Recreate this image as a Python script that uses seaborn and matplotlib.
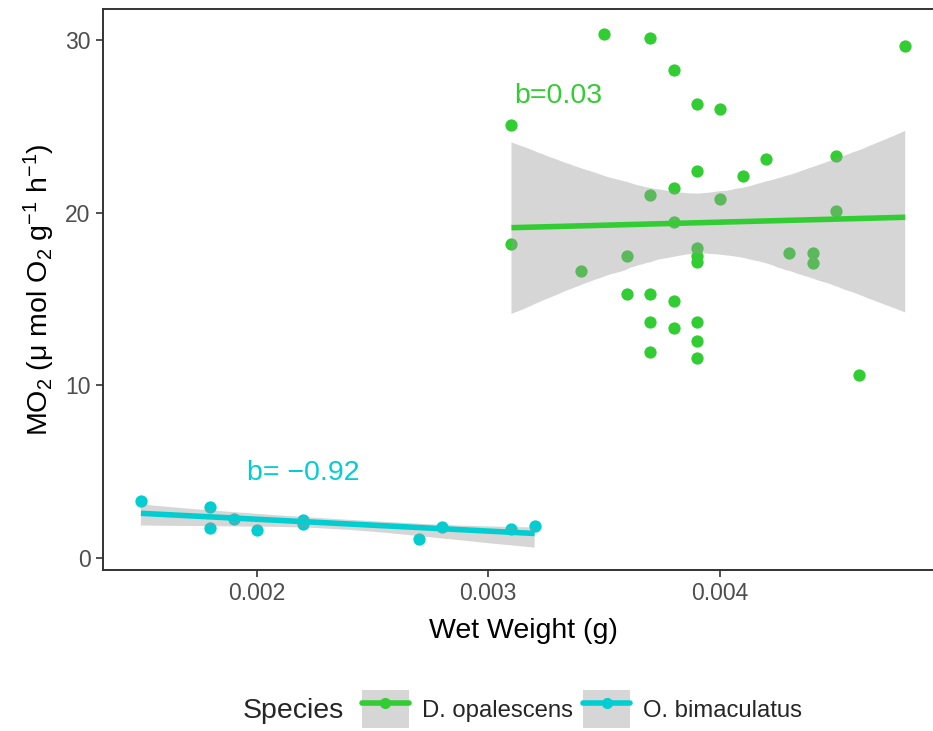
import numpy as np
import pandas as pd
import matplotlib
matplotlib.use("Agg")
import matplotlib.pyplot as plt
from matplotlib.lines import Line2D
from matplotlib.patches import Rectangle
from matplotlib.collections import PolyCollection
from matplotlib.legend_handler import HandlerTuple
import seaborn as sns

# Wet weight (g) and oxygen consumption (umol O2 g^-1 h^-1) per species
opal_weight = [0.0035, 0.0037, 0.0038, 0.0039, 0.0040, 0.0031, 0.0048, 0.0042, 0.0045,
               0.0039, 0.0041, 0.0038, 0.0037, 0.0040, 0.0045, 0.0038, 0.0031, 0.0034,
               0.0036, 0.0039, 0.0039, 0.0039, 0.0043, 0.0044, 0.0044, 0.0036, 0.0037,
               0.0038, 0.0037, 0.0038, 0.0039, 0.0039, 0.0037, 0.0039, 0.0046]
opal_mo2 = [30.34, 30.13, 28.26, 26.31, 26.00, 25.07, 29.65, 23.12, 23.29,
            22.43, 22.10, 21.40, 21.00, 20.79, 20.09, 19.44, 18.20, 16.62,
            17.47, 17.93, 17.49, 17.16, 17.66, 17.64, 17.10, 15.29, 15.27,
            14.88, 13.65, 13.34, 13.67, 12.57, 11.95, 11.58, 10.60]

bima_weight = [0.0015, 0.0018, 0.0018, 0.0019, 0.0020, 0.0022, 0.0022,
               0.0027, 0.0028, 0.0031, 0.0032]
bima_mo2 = [3.30, 2.94, 1.72, 2.26, 1.64, 2.22, 1.99,
            1.12, 1.78, 1.68, 1.84]

species = ["D. opalescens", "O. bimaculatus"]
species_colors = {"D. opalescens": "#32CD32", "O. bimaculatus": "#00CED1"}
slope_labels = {"D. opalescens": "b=0.03", "O. bimaculatus": "b= \u22120.92"}
label_pos = {"D. opalescens": (0.0033, 26.75), "O. bimaculatus": (0.0022, 4.9)}

df = pd.DataFrame({
    "Wet Weight": opal_weight + bima_weight,
    "MO2": opal_mo2 + bima_mo2,
    "Species": [species[0]] * len(opal_weight) + [species[1]] * len(bima_weight),
})

sns.set_theme(style="white")
plt.rcParams["font.family"] = ["Liberation Sans", "DejaVu Sans"]
plt.rcParams["mathtext.fontset"] = "custom"
plt.rcParams["mathtext.rm"] = "Liberation Sans"
plt.rcParams["mathtext.it"] = "Liberation Sans"
plt.rcParams["mathtext.default"] = "regular"

W, H = 933, 731
fig = plt.figure(figsize=(W / 100, H / 100), dpi=100)
ax = fig.add_axes([103 / W, (H - 570) / H, 840 / W, 561 / H])

ribbon_gray = "#D6D6D6"

# Points first, then the fitted lines and confidence bands on top
for sp in species:
    sub = df[df["Species"] == sp]
    sns.scatterplot(data=sub, x="Wet Weight", y="MO2", color=species_colors[sp],
                    s=78, linewidth=0, ax=ax, zorder=2, legend=False)

for sp in species:
    sub = df[df["Species"] == sp]
    n_before = len(ax.collections)
    sns.regplot(data=sub, x="Wet Weight", y="MO2", scatter=False, ci=95,
                n_boot=4000, seed=7, color=species_colors[sp], truncate=True,
                line_kws={"linewidth": 4, "zorder": 4, "solid_capstyle": "butt"}, ax=ax)
    for coll in ax.collections[n_before:]:
        if isinstance(coll, PolyCollection):
            coll.set_alpha(None)
            coll.set_facecolor((0.6, 0.6, 0.6, 0.4))
            coll.set_edgecolor("none")
            coll.set_zorder(3)
    tx, ty = label_pos[sp]
    ax.text(tx, ty, slope_labels[sp], color=species_colors[sp], fontsize=20.5,
            ha="center", va="center")

ax.set_xlim(0.0013363, 0.0049633)
ax.set_ylim(-0.695, 31.79)
ax.set_xticks([0.002, 0.003, 0.004])
ax.set_xticklabels(["0.002", "0.003", "0.004"])
ax.set_yticks([0, 10, 20, 30])
ax.tick_params(axis="both", which="major", length=5, width=1.2, color="#333333",
               labelsize=16.5, labelcolor="#4D4D4D", direction="out", pad=4,
               bottom=True, left=True)
for sp_name, spine in ax.spines.items():
    spine.set_color("#333333")
    spine.set_linewidth(1.4)
ax.grid(False)

ax.set_xlabel("Wet Weight (g)", fontsize=20.5, color="black", labelpad=9)
ax.set_ylabel("MO$_2$ (\u03bc mol O$_2$ g$^{-1}$ h$^{-1}$)", fontsize=20.5,
              color="black", labelpad=6)

# Legend along the bottom
handles = []
for sp in species:
    box = Rectangle((0, 0), 1, 1, facecolor=ribbon_gray, edgecolor="none")
    ln = Line2D([], [], color=species_colors[sp], linewidth=4, marker="o",
                markersize=8, markeredgewidth=0)
    handles.append((box, ln))
fig.text(243 / W, (H - 711) / H, "Species", fontsize=20.5, ha="left", va="center")
fig.legend(handles, species, handler_map={tuple: HandlerTuple(ndivide=1, pad=0)},
           loc="center left", bbox_to_anchor=(362 / W, (H - 709) / H), ncol=2,
           frameon=False, fontsize=17.2, handlelength=1.95, handleheight=2.05,
           handletextpad=0.55, columnspacing=0.45, borderpad=0, borderaxespad=0)

fig.savefig("out.png", dpi=100)
